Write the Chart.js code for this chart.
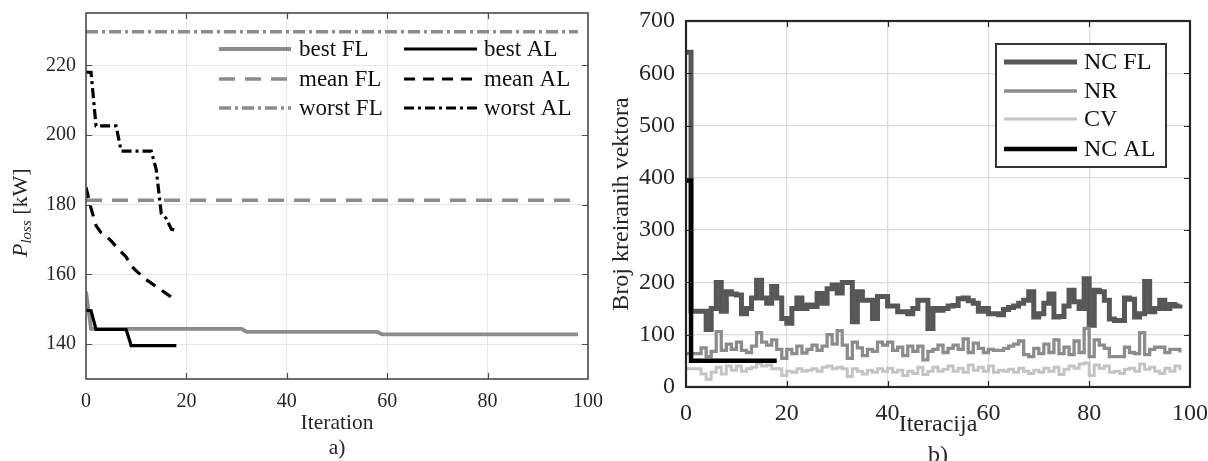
<!DOCTYPE html>
<html><head><meta charset="utf-8">
<script src="https://cdn.jsdelivr.net/npm/chart.js@4.4.0/dist/chart.umd.min.js"></script>
<style>
html,body{margin:0;padding:0;background:#fff;}
#wrap{position:relative;width:1208px;height:461px;overflow:hidden;background:#fff;}
#c1{position:absolute;left:0;top:0;z-index:2;}
#c2{position:absolute;left:600px;top:0;z-index:1;}
</style></head><body>
<div id="wrap"><canvas id="c1" width="640" height="461"></canvas><canvas id="c2" width="608" height="461"></canvas></div>
<script>
// ---------- Panel a) data ----------
const bestFLIter = [0, 1, 31, 32, 58, 59, 98];
const bestFLVal  = [155, 144.4, 144.4, 143.5, 143.5, 142.8, 142.8];
const meanFLIter = [0, 98];
const meanFLVal  = [181.3, 181.3];
const worstFLIter = [0, 98];
const worstFLVal  = [229.6, 229.6];
const alIter   = [0,1,2,3,4,5,6,7,8,9,10,11,12,13,14,15,16,17,18];
const bestAL   = [149.7,149.6,144.2,144.2,144.2,144.2,144.2,144.2,144.2,139.6,139.6,139.6,139.6,139.6,139.6,139.6,139.6,139.6,139.6];
const meanAL   = [185,179,174,172,171,169.6,168,166.5,165,162.5,161,159.8,158.5,157.5,156.5,155.5,154.5,153.5,152.8];
const worstAL  = [218,218,202.6,202.6,202.6,202.6,202.6,195.4,195.4,195.4,195.4,195.4,195.4,195.4,190,177.4,176,173,172.5];
const labelsA  = ['best FL','mean FL','worst FL','best AL','mean AL','worst AL'];
const yTicksA  = [140,160,180,200,220];
const xTitleA  = 'Iteration';
const captionA = 'a)';

// ---------- Panel b) data ----------
const iterB = [0,1,2,3,4,5,6,7,8,9,10,11,12,13,14,15,16,17,18,19,20,21,22,23,24,25,26,27,28,29,30,31,32,33,34,35,36,37,38,39,40,41,42,43,44,45,46,47,48,49,50,51,52,53,54,55,56,57,58,59,60,61,62,63,64,65,66,67,68,69,70,71,72,73,74,75,76,77,78,79,80,81,82,83,84,85,86,87,88,89,90,91,92,93,94,95,96,97,98];
const ncFL = [640,145,145,145,110,150,200,145,182,178,176,140,150,170,204,170,160,192,170,131,
              122,150,170,150,157,154,179,160,188,195,180,200,200,125,182,166,166,131,173,173,
              155,155,144,144,140,150,166,166,112,150,147,150,155,156,169,170,165,160,145,150,
              140,140,138,148,152,155,160,166,182,134,140,160,178,134,135,155,185,163,150,207,
              118,185,182,166,130,127,127,170,168,134,140,202,144,150,166,150,158,155,158];
const nr   = [64,64,64,75,58,68,106,70,82,72,86,70,66,78,104,86,80,90,72,55,
              72,64,78,65,72,80,70,78,100,82,108,80,55,86,75,60,72,68,86,80,
              86,70,76,60,78,68,78,52,68,72,80,66,74,80,72,92,66,84,74,66,
              72,70,70,74,78,82,88,62,58,74,64,82,66,90,64,76,62,88,66,112,
              58,90,80,74,58,58,58,76,66,64,104,62,72,76,76,66,72,72,66];
const cv   = [35,35,35,25,15,28,38,25,40,32,40,30,35,38,45,40,42,35,35,22,
              30,28,35,30,32,35,30,38,40,35,38,35,20,35,30,25,32,28,35,30,
              36,28,32,22,30,26,38,24,30,38,30,34,40,30,36,28,42,32,38,30,
              40,28,32,30,34,28,36,30,26,32,28,36,30,38,24,34,40,36,44,46,
              22,42,36,40,28,30,26,34,36,30,44,34,38,30,26,36,30,40,32];
const ncALIter = [0,1,2,3,4,5,6,7,8,9,10,11,12,13,14,15,16,17,18];
const ncAL = [395,50,50,50,50,50,50,50,50,50,50,50,50,50,50,50,50,50,50];
const labelsB = ['NC FL','NR','CV','NC AL'];
const xTitleB = 'Iteracija';
const yTitleB = 'Broj kreiranih vektora';
const captionB = 'b)';

// ---------- helpers ----------
const FONT = '"Liberation Serif","Times New Roman",serif';
const pts = (xs, ys) => xs.map((x, i) => ({x: x, y: ys[i]}));

function boxPlugin(color, width, tickLen) {
  return { id: 'boxTicks', afterDraw(chart) {
    const {ctx, chartArea: a, scales: {x, y}} = chart;
    ctx.save();
    ctx.strokeStyle = color; ctx.setLineDash([]);
    ctx.lineWidth = 1.2;
    ctx.beginPath();
    x.ticks.forEach(t => { if (t.value <= x.min || t.value >= x.max) return;
      const p = Math.round(x.getPixelForValue(t.value)) + 0.5;
      ctx.moveTo(p, a.bottom); ctx.lineTo(p, a.bottom - tickLen);
      ctx.moveTo(p, a.top); ctx.lineTo(p, a.top + tickLen); });
    y.ticks.forEach(t => { if (t.value <= y.min || t.value >= y.max) return;
      const p = Math.round(y.getPixelForValue(t.value)) + 0.5;
      ctx.moveTo(a.left, p); ctx.lineTo(a.left + tickLen, p);
      ctx.moveTo(a.right, p); ctx.lineTo(a.right - tickLen, p); });
    ctx.stroke();
    ctx.lineWidth = width;
    ctx.strokeRect(a.left, a.top, a.right - a.left, a.bottom - a.top);
    ctx.restore();
  }};
}

function fixScale(size, horizontal) {
  return function (s) {
    if (horizontal) { s.height = size; } else { s.width = size; }
    s.paddingLeft = 0; s.paddingRight = 0; s.paddingTop = 0; s.paddingBottom = 0;
  };
}

// ---------- Chart a) ----------
const legendA = { id: 'legendA', afterDraw(chart) {
  const ctx = chart.ctx;
  const cols = [{x0: 219, x1: 291, tx: 299}, {x0: 404, x1: 477, tx: 484}];
  const rows = [49, 79, 108];
  ctx.save();
  chart.data.datasets.forEach((d, i) => {
    const c = cols[Math.floor(i / 3)], r = rows[i % 3];
    ctx.beginPath();
    ctx.strokeStyle = d.borderColor; ctx.lineWidth = d.borderWidth;
    ctx.setLineDash(d.borderDash || []);
    ctx.moveTo(c.x0, r); ctx.lineTo(c.x1, r); ctx.stroke();
    ctx.setLineDash([]);
    ctx.fillStyle = '#111'; ctx.font = '23px ' + FONT;
    ctx.textAlign = 'left'; ctx.textBaseline = 'middle';
    ctx.fillText(d.label, c.tx, r + 1);
  });
  ctx.restore();
}};

const titlesA = { id: 'titlesA', afterDraw(chart) {
  const ctx = chart.ctx, a = chart.chartArea;
  const cx = (a.left + a.right) / 2;
  ctx.save();
  ctx.fillStyle = '#262626';
  ctx.font = '21.5px ' + FONT; ctx.textAlign = 'center'; ctx.textBaseline = 'middle';
  ctx.fillText(xTitleA, cx, 423);
  ctx.fillText(captionA, cx, 448);
  ctx.translate(27, 257); ctx.rotate(-Math.PI / 2);
  ctx.textAlign = 'left'; ctx.textBaseline = 'alphabetic';
  ctx.font = 'italic 22px ' + FONT; ctx.fillText('P', 0, 0);
  let w = ctx.measureText('P').width;
  ctx.font = 'italic 15px ' + FONT; ctx.fillText('loss', w, 4);
  w += ctx.measureText('loss').width;
  ctx.font = '22px ' + FONT; ctx.fillText(' [kW]', w, 0);
  ctx.restore();
}};

const grayA = '#8c8c8c';
new Chart(document.getElementById('c1'), {
  type: 'line',
  data: { datasets: [
    {label: labelsA[0], data: pts(bestFLIter, bestFLVal), borderColor: grayA, borderWidth: 3.8, order: 6},
    {label: labelsA[1], data: pts(meanFLIter, meanFLVal), borderColor: grayA, borderWidth: 3.5, borderDash: [16, 10], order: 5},
    {label: labelsA[2], data: pts(worstFLIter, worstFLVal), borderColor: grayA, borderWidth: 3.5, borderDash: [12, 4, 3, 4], order: 4},
    {label: labelsA[3], data: pts(alIter, bestAL), borderColor: '#000', borderWidth: 3.2, order: 3},
    {label: labelsA[4], data: pts(alIter, meanAL), borderColor: '#000', borderWidth: 3.2, borderDash: [11, 8], order: 2},
    {label: labelsA[5], data: pts(alIter, worstAL), borderColor: '#000', borderWidth: 3.2, borderDash: [10, 4, 3, 4], order: 1}
  ]},
  options: {
    responsive: false, animation: false, devicePixelRatio: 1,
    layout: {padding: {left: 0, right: 52, top: 13, bottom: 0}},
    elements: {point: {radius: 0}, line: {tension: 0, fill: false, borderCapStyle: 'butt'}},
    plugins: {legend: {display: false}, tooltip: {enabled: false}},
    scales: {
      x: {type: 'linear', min: 0, max: 100,
          ticks: {stepSize: 20, font: {family: FONT, size: 20}, color: '#262626', padding: 11, maxRotation: 0},
          grid: {color: '#e6e6e6', lineWidth: 1, drawTicks: false}, border: {display: false},
          afterFit: fixScale(82, true)},
      y: {type: 'linear', min: 130, max: 235,
          afterBuildTicks: s => { s.ticks = yTicksA.map(v => ({value: v})); },
          ticks: {font: {family: FONT, size: 20}, color: '#262626', padding: 10},
          grid: {color: '#e6e6e6', lineWidth: 1, drawTicks: false}, border: {display: false},
          afterFit: fixScale(86, false)}
    }
  },
  plugins: [legendA, titlesA, boxPlugin('#4a4a4a', 1.6, 6)]
});

// ---------- Chart b) ----------
const legendB = { id: 'legendB', afterDraw(chart) {
  const ctx = chart.ctx;
  const rows = [62, 91, 119, 149];
  ctx.save();
  ctx.fillStyle = '#fff'; ctx.fillRect(396, 44, 170, 123);
  ctx.strokeStyle = '#333'; ctx.lineWidth = 2; ctx.setLineDash([]);
  ctx.strokeRect(396, 44, 170, 123);
  chart.data.datasets.forEach((d, i) => {
    const r = rows[i];
    ctx.beginPath(); ctx.strokeStyle = d.borderColor; ctx.lineWidth = d.borderWidth;
    ctx.moveTo(404, r); ctx.lineTo(477, r); ctx.stroke();
    ctx.fillStyle = '#111'; ctx.font = '24px ' + FONT;
    ctx.textAlign = 'left'; ctx.textBaseline = 'middle';
    ctx.fillText(d.label, 484, r + 1);
  });
  ctx.restore();
}};

const titlesB = { id: 'titlesB', afterDraw(chart) {
  const ctx = chart.ctx, a = chart.chartArea;
  const cx = (a.left + a.right) / 2, cy = (a.top + a.bottom) / 2;
  ctx.save();
  ctx.fillStyle = '#262626';
  ctx.font = '24px ' + FONT; ctx.textAlign = 'center'; ctx.textBaseline = 'middle';
  ctx.fillText(xTitleB, cx, 425);
  ctx.fillText(captionB, cx, 456);
  ctx.translate(22, cy); ctx.rotate(-Math.PI / 2);
  ctx.fillText(yTitleB, 0, 0);
  ctx.restore();
}};

// MATLAB-style stairs: value i held from x=i to x=i+1 -> Chart.js stepped 'before'
new Chart(document.getElementById('c2'), {
  type: 'line',
  data: { datasets: [
    {label: labelsB[0], data: pts(iterB, ncFL), borderColor: '#575757', borderWidth: 5, stepped: 'before', order: 4},
    {label: labelsB[1], data: pts(iterB, nr), borderColor: '#8c8c8c', borderWidth: 3.3, stepped: 'before', order: 3},
    {label: labelsB[2], data: pts(iterB, cv), borderColor: '#c4c4c4', borderWidth: 3, stepped: 'before', order: 2},
    {label: labelsB[3], data: pts(ncALIter, ncAL), borderColor: '#000', borderWidth: 4.5, stepped: 'before', order: 1}
  ]},
  options: {
    responsive: false, animation: false, devicePixelRatio: 1,
    layout: {padding: {left: 0, right: 18, top: 21, bottom: 0}},
    elements: {point: {radius: 0}, line: {tension: 0, fill: false, borderCapStyle: 'butt'}},
    plugins: {legend: {display: false}, tooltip: {enabled: false}},
    scales: {
      x: {type: 'linear', min: 0, max: 100,
          ticks: {stepSize: 20, font: {family: FONT, size: 24}, color: '#262626', padding: 12, maxRotation: 0},
          grid: {color: '#dcdcdc', lineWidth: 1.3, drawTicks: false}, border: {display: false},
          afterFit: fixScale(74, true)},
      y: {type: 'linear', min: 0, max: 700,
          ticks: {stepSize: 100, font: {family: FONT, size: 24}, color: '#262626', padding: 11},
          grid: {color: '#dcdcdc', lineWidth: 1.3, drawTicks: false}, border: {display: false},
          afterFit: fixScale(86, false)}
    }
  },
  plugins: [legendB, titlesB, boxPlugin('#262626', 2.2, 6)]
});
</script>
</body></html>
